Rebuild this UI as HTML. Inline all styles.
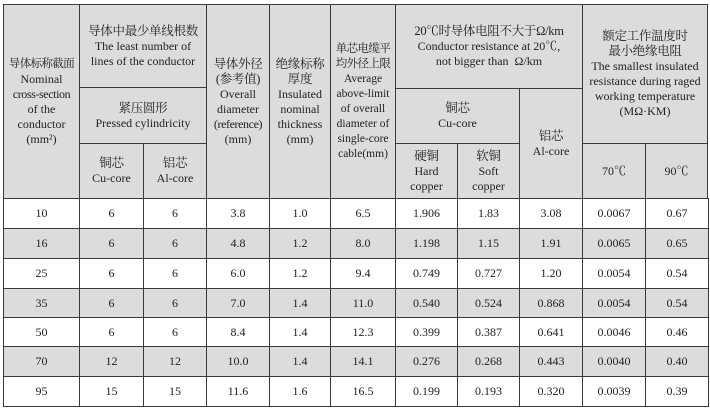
<!DOCTYPE html>
<html><head><meta charset="utf-8"><style>
html,body{margin:0;padding:0;background:#fff;}
body{width:710px;height:411px;position:relative;overflow:hidden;font-family:"Liberation Serif","Noto Serif CJK SC",serif;color:#222;}
.c{position:absolute;box-sizing:border-box;border:1.5px solid #3a3a3a;display:flex;align-items:center;justify-content:center;text-align:center;font-size:12px;line-height:15px;background:#dcdcdc;white-space:nowrap;}
.w{background:#fff;}
.z{font-family:"Liberation Serif","Noto Serif CJK SC",serif;font-size:12.5px;letter-spacing:-0.3px;}
.s{font-size:11.5px;letter-spacing:-0.6px;}
</style></head><body>
<div class="c" style="left:3px;top:4px;width:77px;height:195px;"><div><span class="z s">导体标称截面</span><br>Nominal<br><span style="letter-spacing:-0.4px">cross-section</span><br>of the<br>conductor<br>(mm²)</div></div>
<div class="c" style="left:79px;top:4px;width:128px;height:84px;"><div><span class="z">导体中最少单线根数</span><br>The least number of<br>lines of the conductor</div></div>
<div class="c" style="left:79px;top:87px;width:128px;height:57px;"><div><span class="z">紧压圆形</span><br>Pressed cylindricity</div></div>
<div class="c" style="left:79px;top:143px;width:65px;height:56px;"><div><span class="z">铜芯</span><br>Cu-core</div></div>
<div class="c" style="left:143px;top:143px;width:64px;height:56px;"><div><span class="z">铝芯</span><br>Al-core</div></div>
<div class="c" style="left:206px;top:4px;width:64px;height:195px;"><div><span class="z">导体外径<br>(参考值)</span><br>Overall<br>diameter<br><span style="letter-spacing:-0.4px">(reference)</span><br>(mm)</div></div>
<div class="c" style="left:269px;top:4px;width:62px;height:195px;"><div><span class="z">绝缘标称<br>厚度</span><br>Insulated<br>nominal<br>thickness<br>(mm)</div></div>
<div class="c" style="left:330px;top:4px;width:66px;height:195px;font-size:11.5px;"><div><span class="z s">单芯电缆平<br>均外径上限</span><br>Average<br>above-limit<br>of overall<br>diameter of<br>single-core<br>cable(mm)</div></div>
<div class="c" style="left:395px;top:4px;width:188px;height:85px;"><div><span class="z">20℃时导体电阻不大于Ω/km</span><br>Conductor resistance at 20℃,<br>not bigger than &nbsp;Ω/km</div></div>
<div class="c" style="left:395px;top:88px;width:125px;height:56px;"><div><span class="z">铜芯</span><br>Cu-core</div></div>
<div class="c" style="left:395px;top:143px;width:63px;height:56px;"><div><span class="z">硬铜</span><br>Hard<br>copper</div></div>
<div class="c" style="left:457px;top:143px;width:63px;height:56px;"><div><span class="z">软铜</span><br>Soft<br>copper</div></div>
<div class="c" style="left:519px;top:88px;width:64px;height:111px;"><div><span class="z">铝芯</span><br>Al-core</div></div>
<div class="c" style="left:582px;top:4px;width:126px;height:140px;"><div><span class="z">额定工作温度时<br>最小绝缘电阻</span><br>The smallest insulated<br>resistance during raged<br>working temperature<br>(MΩ·KM)</div></div>
<div class="c" style="left:582px;top:143px;width:64px;height:56px;">70℃</div>
<div class="c" style="left:645px;top:143px;width:63px;height:56px;">90℃</div>
<div id="rows"></div>
<script>
var xs=[3,79,143,206,269,330,395,457,519,582,645,708];
var ys=[198,228,258,288,317,346,376,406];
var d=[["10","6","6","3.8","1.0","6.5","1.906","1.83","3.08","0.0067","0.67"],
["16","6","6","4.8","1.2","8.0","1.198","1.15","1.91","0.0065","0.65"],
["25","6","6","6.0","1.2","9.4","0.749","0.727","1.20","0.0054","0.54"],
["35","6","6","7.0","1.4","11.0","0.540","0.524","0.868","0.0054","0.54"],
["50","6","6","8.4","1.4","12.3","0.399","0.387","0.641","0.0046","0.46"],
["70","12","12","10.0","1.4","14.1","0.276","0.268","0.443","0.0040","0.40"],
["95","15","15","11.6","1.6","16.5","0.199","0.193","0.320","0.0039","0.39"]];
var h="";
for(var r=0;r<7;r++)for(var c=0;c<11;c++){
h+='<div class="c'+(r%2?'':' w')+'" style="left:'+xs[c]+'px;top:'+ys[r]+'px;width:'+(xs[c+1]-xs[c]+1)+'px;height:'+(ys[r+1]-ys[r]+1)+'px;">'+d[r][c]+'</div>';}
document.getElementById("rows").innerHTML=h;
</script>
</body></html>
